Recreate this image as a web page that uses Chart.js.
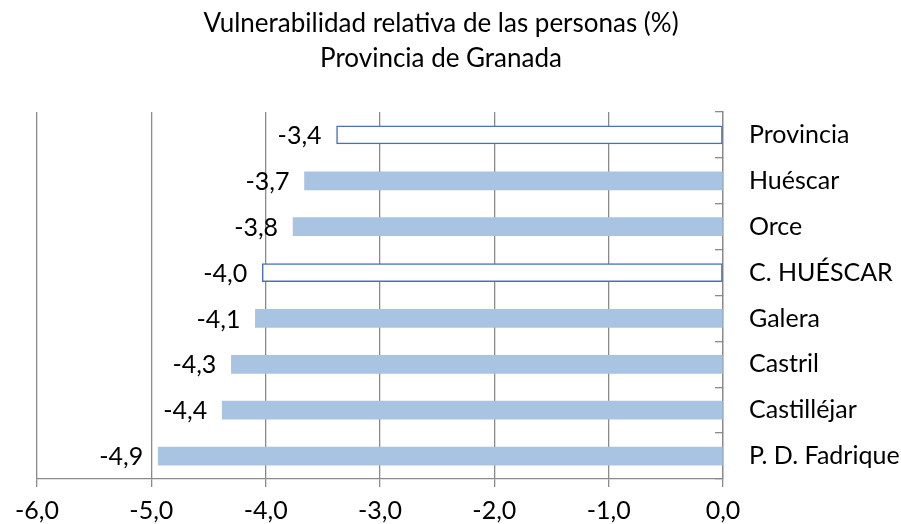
<!DOCTYPE html>
<html>
<head>
  <meta charset="utf-8">
  <script src="https://cdn.jsdelivr.net/npm/chart.js"></script>
  <style>
    body { margin: 0; background: #fff; }
    .container { width: 901px; height: 524px; }
  </style>
</head>
<body>
  <div class="container">
    <canvas id="vulnChart"></canvas>
  </div>
</body>
<script>
  // Data
  var categories = ['Provincia', 'Huéscar', 'Orce', 'C. HUÉSCAR', 'Galera', 'Castril', 'Castilléjar', 'P. D. Fadrique'];
  var values = [-3.38, -3.66, -3.76, -4.03, -4.09, -4.30, -4.38, -4.94];
  var outlined = [true, false, false, true, false, false, false, false];
  var xTicks = [-6, -5, -4, -3, -2, -1, 0];
  var titleLines = ['Vulnerabilidad relativa de las personas (%)', 'Provincia de Granada'];

  var fontFamily = 'Lato, "Liberation Sans", sans-serif';
  var gridColor = '#8a8a8a';
  var fillBlue = '#a9c3e2';
  var lineBlue = '#4a70bd';

  function fmt(v) {
      return v.toFixed(1).replace('.', ',');
  }

  // Title sits a bit left of the canvas centre, so it is drawn by hand
  var titleText = {
      id: 'titleText',
      afterDraw: function (chart) {
          var ctx = chart.ctx;
          ctx.save();
          ctx.font = '26px ' + fontFamily;
          ctx.fillStyle = '#000';
          ctx.textAlign = 'center';
          ctx.textBaseline = 'middle';
          ctx.fillText(titleLines[0], 441, 24);
          ctx.fillText(titleLines[1], 441, 59);
          ctx.restore();
      }
  };

  // Value labels drawn just left of each bar end
  var valueLabels = {
      id: 'valueLabels',
      afterDatasetsDraw: function (chart) {
          var ctx = chart.ctx;
          var meta = chart.getDatasetMeta(0);
          ctx.save();
          ctx.font = '25px ' + fontFamily;
          ctx.fillStyle = '#000';
          ctx.textAlign = 'right';
          ctx.textBaseline = 'middle';
          meta.data.forEach(function (bar, i) {
              ctx.fillText(fmt(values[i]), bar.x - 15, bar.y + 1);
          });
          ctx.restore();
      }
  };

  var ctx = document.getElementById('vulnChart').getContext('2d');

  var chart = new Chart(ctx, {
      type: 'bar',
      data: {
          labels: categories,
          datasets: [{
              data: values,
              backgroundColor: outlined.map(o => o ? '#ffffff' : fillBlue),
              borderColor: outlined.map(o => o ? lineBlue : fillBlue),
              borderWidth: outlined.map(o => o ? 1.5 : 0),
              borderSkipped: false,
              barThickness: 18,
          }],
      },
      plugins: [valueLabels, titleText],
      options: {
          indexAxis: 'y',
          responsive: true,
          maintainAspectRatio: false,
          animation: false,
          layout: {
              padding: { left: 37, top: 112, right: 0, bottom: 0 },
          },
          scales: {
              x: {
                  min: -6,
                  max: 0,
                  afterBuildTicks: function (scale) {
                      scale.ticks = xTicks.map(v => ({ value: v }));
                  },
                  afterFit: function (scale) {
                      scale.height = 45;
                  },
                  ticks: {
                      color: '#000',
                      font: { family: fontFamily, size: 25 },
                      padding: 9,
                      maxRotation: 0,
                      callback: function (v) { return fmt(v); },
                  },
                  grid: {
                      color: gridColor,
                      lineWidth: 1.3,
                      tickLength: 8,
                  },
                  border: { color: gridColor, width: 1.3 },
              },
              y: {
                  position: 'right',
                  afterFit: function (scale) {
                      scale.width = 178;
                      // keep the label padding from pushing the plot area in
                      scale.paddingTop = 0;
                      scale.paddingBottom = 0;
                  },
                  ticks: {
                      color: '#000',
                      font: { family: fontFamily, size: 25 },
                      padding: 34,
                      crossAlign: 'near',
                  },
                  grid: {
                      offset: true,
                      drawOnChartArea: false,
                      color: gridColor,
                      lineWidth: 1.3,
                      tickLength: -8,
                  },
                  border: { color: gridColor, width: 1.3 },
              },
          },
          plugins: {
              legend: { display: false },
              tooltip: { enabled: false },
              title: { display: false },
          },
      },
  });
</script>

</html>
